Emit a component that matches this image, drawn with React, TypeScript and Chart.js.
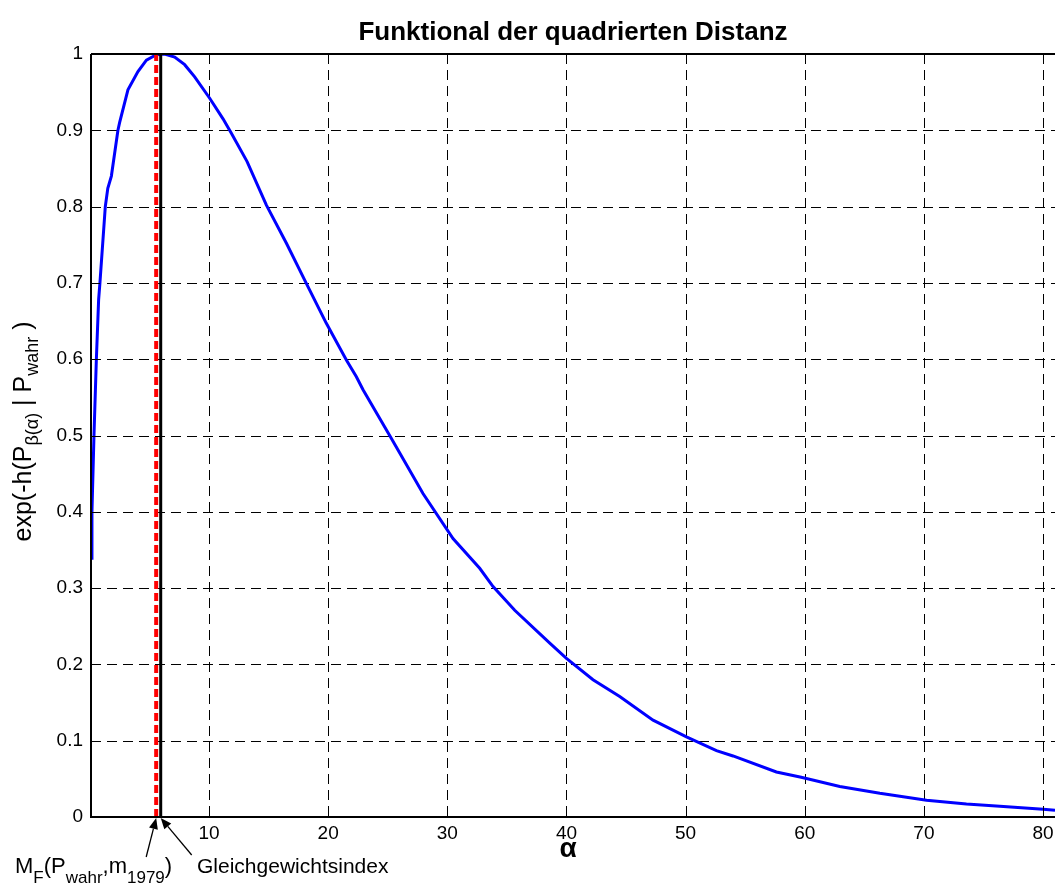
import React, { useEffect, useRef } from 'react';
import { Chart, registerables } from 'chart.js';

Chart.register(...registerables);

// ---- data ----
const alphaValues = [0.1, 0.18, 0.35, 0.55, 0.74, 0.85, 1.3, 1.51, 1.81, 2.36, 2.5, 3.2, 4.04, 4.75, 5.58, 6.28, 7.12, 7.96, 8.8, 10.06, 11.18, 11.88, 13.2, 14.82, 16.5, 18.18, 19.85, 21.53, 22.37, 22.93, 25.31, 26.01, 27.96, 30.48, 32.72, 33.84, 35.66, 38.6, 40.0, 42.23, 44.47, 47.27, 50.07, 52.59, 53.98, 57.62, 59.7, 62.94, 66.3, 70.22, 73.57, 76.37, 80.0, 81.0];
const expValues = [0.339, 0.4, 0.5, 0.6, 0.678, 0.7, 0.8, 0.824, 0.84, 0.9, 0.91, 0.953, 0.977, 0.992, 0.999, 1.0, 0.996, 0.986, 0.97, 0.942, 0.915, 0.896, 0.859, 0.802, 0.752, 0.699, 0.647, 0.599, 0.577, 0.56, 0.496, 0.477, 0.424, 0.365, 0.326, 0.302, 0.271, 0.228, 0.208, 0.18, 0.158, 0.127, 0.105, 0.087, 0.08, 0.059, 0.052, 0.04, 0.031, 0.022, 0.017, 0.014, 0.01, 0.009];
const mfAlpha = 5.57;          // red dashed line M_F(P_wahr, m_1979)
const equilibriumAlpha = 5.95; // black line Gleichgewichtsindex
const xRange = [0.1, 81];
const yRange = [0, 1];
const xTickValues = [10, 20, 30, 40, 50, 60, 70, 80];
const xTickLabels = ['10', '20', '30', '40', '50', '60', '70', '80'];
const yTickValues = [0, 0.1, 0.2, 0.3, 0.4, 0.5, 0.6, 0.7, 0.8, 0.9, 1];
const yTickLabels = ['0', '0.1', '0.2', '0.3', '0.4', '0.5', '0.6', '0.7', '0.8', '0.9', '1'];
const titleText = 'Funktional der quadrierten Distanz';
const xLabelText = 'α';
const annotationEq = 'Gleichgewichtsindex';

const FONT = '"Liberation Sans", Arial, Helvetica, sans-serif';

type Part = { t: string; size: number; dy?: number; bold?: boolean };

function measureParts(ctx: CanvasRenderingContext2D, parts: Part[]) {
  let w = 0;
  for (const p of parts) {
    ctx.font = `${p.bold ? 'bold ' : ''}${p.size}px ${FONT}`;
    w += ctx.measureText(p.t).width;
  }
  return w;
}

function drawParts(ctx: CanvasRenderingContext2D, parts: Part[], x: number, y: number) {
  let cx = x;
  ctx.textAlign = 'left';
  ctx.textBaseline = 'alphabetic';
  for (const p of parts) {
    ctx.font = `${p.bold ? 'bold ' : ''}${p.size}px ${FONT}`;
    ctx.fillText(p.t, cx, y + (p.dy || 0));
    cx += ctx.measureText(p.t).width;
  }
}

function arrow(ctx: CanvasRenderingContext2D, x0: number, y0: number, x1: number, y1: number) {
  const ang = Math.atan2(y1 - y0, x1 - x0);
  const hl = 11, hw = 4.5;
  const bx = x1 - hl * Math.cos(ang), by = y1 - hl * Math.sin(ang);
  ctx.strokeStyle = '#000';
  ctx.fillStyle = '#000';
  ctx.lineWidth = 1.3;
  ctx.setLineDash([]);
  ctx.beginPath();
  ctx.moveTo(x0, y0);
  ctx.lineTo(bx, by);
  ctx.stroke();
  ctx.beginPath();
  ctx.moveTo(x1, y1);
  ctx.lineTo(bx + hw * Math.sin(ang), by - hw * Math.cos(ang));
  ctx.lineTo(bx - hw * Math.sin(ang), by + hw * Math.cos(ang));
  ctx.closePath();
  ctx.fill();
}

const decorPlugin = {
  id: 'decor',
  beforeDatasetsDraw(chart: any) {
    const { ctx, chartArea: a, scales } = chart;
    const xs = scales.x, ys = scales.y;
    ctx.save();
    ctx.strokeStyle = '#000';
    ctx.lineWidth = 1;
    ctx.setLineDash([10, 6]);
    for (const v of xTickValues) {
      const px = Math.round(xs.getPixelForValue(v)) + 0.5;
      ctx.beginPath();
      ctx.moveTo(px, a.top);
      ctx.lineTo(px, a.bottom);
      ctx.stroke();
    }
    for (const v of yTickValues) {
      const py = Math.round(ys.getPixelForValue(v)) + 0.5;
      ctx.beginPath();
      ctx.moveTo(a.left, py);
      ctx.lineTo(a.right, py);
      ctx.stroke();
    }
    ctx.restore();
  },
  afterDatasetsDraw(chart: any) {
    const { ctx, chartArea: a, scales } = chart;
    const xs = scales.x, ys = scales.y;
    ctx.save();
    ctx.setLineDash([]);
    // axes box
    ctx.strokeStyle = '#000';
    ctx.lineWidth = 2;
    ctx.beginPath();
    ctx.moveTo(a.left, a.top);
    ctx.lineTo(a.right, a.top);
    ctx.moveTo(a.left, a.top);
    ctx.lineTo(a.left, a.bottom);
    ctx.lineTo(a.right, a.bottom);
    ctx.stroke();
    // inward ticks
    ctx.lineWidth = 1;
    for (const v of xTickValues) {
      const px = Math.round(xs.getPixelForValue(v)) + 0.5;
      ctx.beginPath();
      ctx.moveTo(px, a.bottom);
      ctx.lineTo(px, a.bottom - 9);
      ctx.moveTo(px, a.top);
      ctx.lineTo(px, a.top + 9);
      ctx.stroke();
    }
    for (const v of yTickValues) {
      const py = Math.round(ys.getPixelForValue(v)) + 0.5;
      ctx.beginPath();
      ctx.moveTo(a.left, py);
      ctx.lineTo(a.left + 9, py);
      ctx.stroke();
    }

    ctx.fillStyle = '#000';
    // title
    ctx.font = `bold 26px ${FONT}`;
    ctx.textAlign = 'center';
    ctx.textBaseline = 'alphabetic';
    ctx.fillText(titleText, (a.left + a.right) / 2, 40);

    // x label
    ctx.font = `bold 28px ${FONT}`;
    ctx.fillText(xLabelText, 568, 857);

    // y label
    const yParts: Part[] = [
      { t: 'exp(-h(P', size: 25 },
      { t: 'β(α)', size: 18, dy: 7 },
      { t: ' | P', size: 25 },
      { t: 'wahr', size: 18, dy: 7 },
      { t: ' )', size: 25 },
    ];
    const yw = measureParts(ctx, yParts);
    ctx.save();
    ctx.translate(31, (a.top + a.bottom) / 2 - 4);
    ctx.rotate(-Math.PI / 2);
    drawParts(ctx, yParts, -yw / 2, 0);
    ctx.restore();

    // annotations
    const xRed = xs.getPixelForValue(mfAlpha);
    const xBlack = xs.getPixelForValue(equilibriumAlpha);
    const y0 = ys.getPixelForValue(0);
    const mfParts: Part[] = [
      { t: 'M', size: 22 },
      { t: 'F', size: 17, dy: 10 },
      { t: '(P', size: 22 },
      { t: 'wahr', size: 17, dy: 10 },
      { t: ',m', size: 22 },
      { t: '1979', size: 17, dy: 10 },
      { t: ')', size: 22 },
    ];
    drawParts(ctx, mfParts, 15, 873);
    ctx.font = `21px ${FONT}`;
    ctx.textAlign = 'left';
    ctx.fillText(annotationEq, 197, 873);
    arrow(ctx, xRed - 10, 857, xRed, y0 + 1);
    arrow(ctx, xBlack + 31, 855, xBlack, y0 + 1);
    ctx.restore();
  },
};

export default function App() {
  const ref = useRef<HTMLCanvasElement | null>(null);
  useEffect(() => {
    if (!ref.current) return;
    const curve = alphaValues.map((x, i) => ({ x, y: expValues[i] }));
    const chart = new Chart(ref.current, {
      type: 'line',
      data: {
        datasets: [
          {
            label: 'M_F',
            data: [{ x: mfAlpha, y: yRange[0] }, { x: mfAlpha, y: yRange[1] }],
            borderColor: '#ff0000',
            borderWidth: 4,
            borderDash: [8, 4],
            pointRadius: 0,
            fill: false,
          },
          {
            label: 'Gleichgewichtsindex',
            data: [{ x: equilibriumAlpha, y: yRange[0] }, { x: equilibriumAlpha, y: yRange[1] }],
            borderColor: '#000000',
            borderWidth: 3,
            pointRadius: 0,
            fill: false,
          },
          {
            label: 'exp',
            data: curve,
            borderColor: '#0000ff',
            borderWidth: 3,
            pointRadius: 0,
            tension: 0,
            fill: false,
          },
        ],
      },
      options: {
        responsive: false,
        animation: false,
        events: [],
        layout: { padding: { top: 54, left: 0, right: 0, bottom: 0 } },
        plugins: { legend: { display: false }, title: { display: false }, tooltip: { enabled: false } },
        scales: {
          x: {
            type: 'linear',
            min: xRange[0],
            max: xRange[1],
            grid: { display: false, drawTicks: false },
            border: { display: false },
            afterBuildTicks: (s: any) => { s.ticks = xTickValues.map((v) => ({ value: v })); },
            afterFit: (s: any) => { s.height = 67; s.paddingLeft = 0; s.paddingRight = 0; },
            ticks: {
              autoSkip: false,
              maxRotation: 0,
              padding: 5,
              color: '#000',
              font: { family: FONT, size: 19 },
              callback: (v: any) => xTickLabels[xTickValues.indexOf(Number(v))] ?? '',
            },
          },
          y: {
            type: 'linear',
            min: yRange[0],
            max: yRange[1],
            grid: { display: false, drawTicks: false },
            border: { display: false },
            afterBuildTicks: (s: any) => { s.ticks = yTickValues.map((v) => ({ value: v })); },
            afterFit: (s: any) => { s.width = 91; s.paddingTop = 0; s.paddingBottom = 0; },
            ticks: {
              autoSkip: false,
              padding: 8,
              color: '#000',
              font: { family: FONT, size: 19 },
              callback: (v: any) => {
                const i = yTickValues.findIndex((t) => Math.abs(t - Number(v)) < 1e-9);
                return i >= 0 ? yTickLabels[i] : '';
              },
            },
          },
        },
      },
      plugins: [decorPlugin],
    });
    return () => chart.destroy();
  }, []);
  return (
    <div style={{ position: 'absolute', left: 0, top: 0, width: 1055, height: 884, background: '#fff' }}>
      <canvas ref={ref} width={1055} height={884} style={{ display: 'block' }} />
    </div>
  );
}
